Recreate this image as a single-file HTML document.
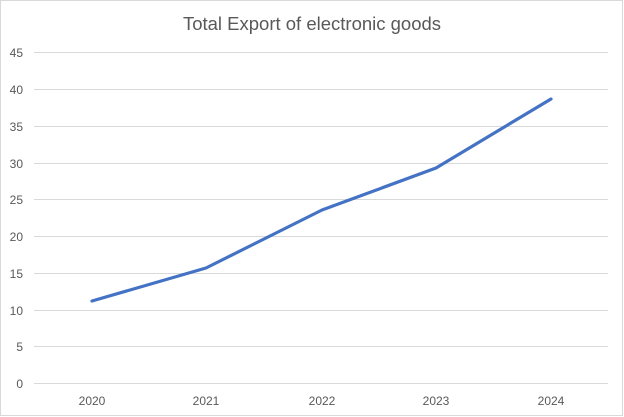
<!DOCTYPE html>
<html><head><style>body{margin:0;background:#fff}svg{display:block}</style></head><body>
<svg width="624" height="417" xmlns="http://www.w3.org/2000/svg" font-family="Liberation Sans, sans-serif">
<rect x="0.5" y="0.5" width="622" height="415" fill="#fff" stroke="#d9d9d9"/>
<text x="312" y="30" text-anchor="middle" font-size="18.5" fill="#595959">Total Export of electronic goods</text>
<g stroke="#d9d9d9" stroke-width="1">
<line x1="34" x2="608" y1="52.5" y2="52.5"/><line x1="34" x2="608" y1="89.5" y2="89.5"/>
<line x1="34" x2="608" y1="126.5" y2="126.5"/><line x1="34" x2="608" y1="163.5" y2="163.5"/>
<line x1="34" x2="608" y1="199.5" y2="199.5"/><line x1="34" x2="608" y1="236.5" y2="236.5"/>
<line x1="34" x2="608" y1="273.5" y2="273.5"/><line x1="34" x2="608" y1="310.5" y2="310.5"/>
<line x1="34" x2="608" y1="346.5" y2="346.5"/><line x1="34" x2="608" y1="383.5" y2="383.5"/>
</g>
<g font-size="12" fill="#595959" text-anchor="end">
<text x="23" y="57">45</text><text x="23" y="94">40</text><text x="23" y="131">35</text>
<text x="23" y="168">30</text><text x="23" y="204">25</text><text x="23" y="241">20</text>
<text x="23" y="278">15</text><text x="23" y="315">10</text><text x="23" y="351">5</text>
<text x="23" y="388">0</text>
</g>
<g font-size="12" fill="#595959" text-anchor="middle">
<text x="92" y="405">2020</text><text x="206" y="405">2021</text><text x="322" y="405">2022</text>
<text x="436" y="405">2023</text><text x="551" y="405">2024</text>
</g>
<polyline points="92,301 206,268 322,210 436,168 551,99" fill="none" stroke="#4472c4" stroke-width="3.2" stroke-linejoin="round" stroke-linecap="round"/>
</svg>
</body></html>
